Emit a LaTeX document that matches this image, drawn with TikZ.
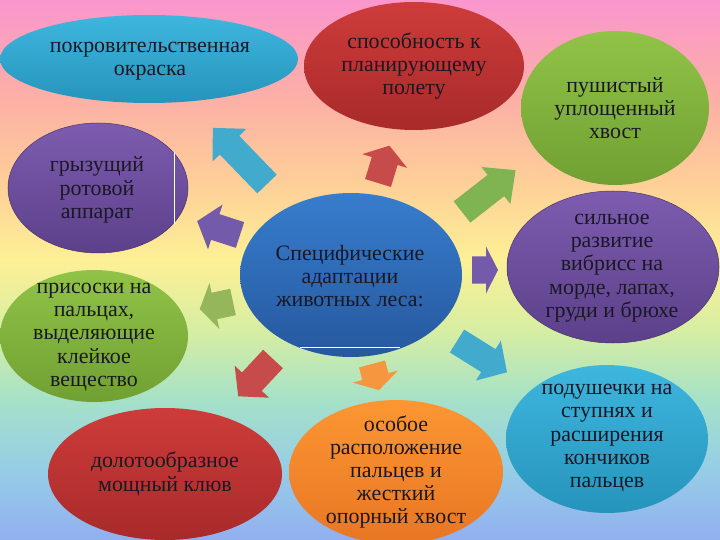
\documentclass[tikz,border=0pt]{standalone}
\usepackage{fontspec}
\setmainfont{Liberation Serif}
\usetikzlibrary{shapes.geometric}
\definecolor{bg1}{RGB}{250,150,205}
\definecolor{bg2}{RGB}{252,176,166}
\definecolor{bg3}{RGB}{253,206,152}
\definecolor{bg4}{RGB}{253,240,150}
\definecolor{bg5}{RGB}{215,238,162}
\definecolor{bg6}{RGB}{165,225,200}
\definecolor{bg7}{RGB}{150,205,230}
\definecolor{bg8}{RGB}{145,175,240}
\pgfdeclareverticalshading{bgrainbow}{100bp}{color(0bp)=(bg8); color(25bp)=(bg8); color(31.48bp)=(bg7); color(37.96bp)=(bg6); color(44.44bp)=(bg5); color(50.93bp)=(bg4); color(58.33bp)=(bg3); color(65.74bp)=(bg2); color(75bp)=(bg1); color(100bp)=(bg1)}
\definecolor{txt}{RGB}{26,24,36}
\definecolor{cyT}{RGB}{62,182,222}\definecolor{cyB}{RGB}{38,148,188}
\definecolor{rdT}{RGB}{205,60,58}\definecolor{rdB}{RGB}{168,42,42}
\definecolor{gnT}{RGB}{145,195,72}\definecolor{gnB}{RGB}{112,160,50}
\definecolor{puT}{RGB}{125,92,175}\definecolor{puB}{RGB}{92,64,138}
\definecolor{blT}{RGB}{55,125,205}\definecolor{blB}{RGB}{38,88,158}
\definecolor{orT}{RGB}{252,150,50}\definecolor{orB}{RGB}{232,118,36}
\definecolor{aCy}{RGB}{66,170,205}
\definecolor{aRd}{RGB}{200,75,75}
\definecolor{aGn}{RGB}{128,180,82}
\definecolor{aGl}{RGB}{150,182,92}
\definecolor{aPu}{RGB}{115,90,170}
\definecolor{aOr}{RGB}{246,150,62}
\newcommand\blockarr[6]{%
  \fill[#1, shift={(#2,#3)}, rotate=#4] (0,-13.5) -- (#5-#6,-13.5) -- (#5-#6,-23.5) -- (#5,0) -- (#5-#6,23.5) -- (#5-#6,13.5) -- (0,13.5) -- cycle;}
\begin{document}
\begin{tikzpicture}[x=1bp,y=-1bp,
  bubble/.style={ellipse, inner sep=0pt, line width=0.5pt},
  label/.style={align=center, inner sep=0pt, text=txt, font=\fontsize{22}{23.3}\selectfont}]
\shade[shading=bgrainbow] (0,0) rectangle (720,540);
\useasboundingbox (0,0) rectangle (720,540);
% arrows
\blockarr{aCy}{267}{184}{134}{78}{24}
\blockarr{aRd}{378}{183}{73}{39}{16}
\blockarr{aGn}{462}{212}{38}{68}{25}
\blockarr{aPu}{240}{235}{162}{45}{19}
\blockarr{aPu}{472}{270}{0}{26}{12}
\blockarr{aGl}{233}{302}{192}{34}{15}
\blockarr{aRd}{273}{359}{227}{51}{20}
\blockarr{aOr}{372}{364}{285}{27}{14}
\blockarr{aCy}{457}{341}{328}{59}{22}
% ellipses
\node[bubble, minimum width=298bp, minimum height=88bp, top color=cyT, bottom color=cyB] (e1) at (149,59) {};
\node[bubble, minimum width=220bp, minimum height=128bp, top color=rdT, bottom color=rdB] (e2) at (414,66) {};
\node[bubble, minimum width=188bp, minimum height=154bp, top color=gnT, bottom color=gnB] (e3) at (615,108) {};
\node[bubble, minimum width=180bp, minimum height=130bp, top color=puT, bottom color=puB, draw=puB!80!black] (e4) at (98,188) {};
\node[bubble, minimum width=222bp, minimum height=164bp, top color=blT, bottom color=blB] (c) at (351,275) {};
\node[bubble, minimum width=212bp, minimum height=152bp, top color=puT, bottom color=puB, draw=puB!80!black] (e5) at (613,267) {};
\node[bubble, minimum width=188bp, minimum height=132bp, top color=gnT, bottom color=gnB] (e6) at (94,336) {};
\node[bubble, minimum width=234bp, minimum height=132bp, top color=rdT, bottom color=rdB] (e7) at (165,474) {};
\node[bubble, minimum width=214bp, minimum height=144bp, top color=orT, bottom color=orB] (e8) at (396,472) {};
\node[bubble, minimum width=202bp, minimum height=148bp, top color=cyT, bottom color=cyB] (e9) at (607,439) {};
% small white marks
\draw[white, line width=0.8pt] (174,152) -- (174,224);
\draw[white, line width=1pt] (300,347) -- (400,347);
% texts
\node[label] (t1) at (150,61) {покровительственная\\окраска};
\node[label] (t2) at (414,66) {способность к\\планирующему\\полету};
\node[label] (t3) at (615,108) {пушистый\\уплощенный\\хвост};
\node[label] (t4) at (97,190) {грызущий\\ротовой\\аппарат};
\node[label] (tc) at (350,276) {Специфические\\адаптации\\животных леса:};
\node[label] (t5) at (612,268) {сильное\\развитие\\вибрисс на\\морде, лапах,\\груди и брюхе};
\node[label] (t6) at (94,337) {присоски на\\пальцах,\\выделяющие\\клейкое\\вещество};
\node[label] (t7) at (165,474) {долотообразное\\мощный клюв};
\node[label] (t8) at (396,472) {особое\\расположение\\пальцев и\\жесткий\\опорный хвост};
\node[label] (t9) at (607,438) {подушечки на\\ступнях и\\расширения\\кончиков\\пальцев};
\end{tikzpicture}
\end{document}
